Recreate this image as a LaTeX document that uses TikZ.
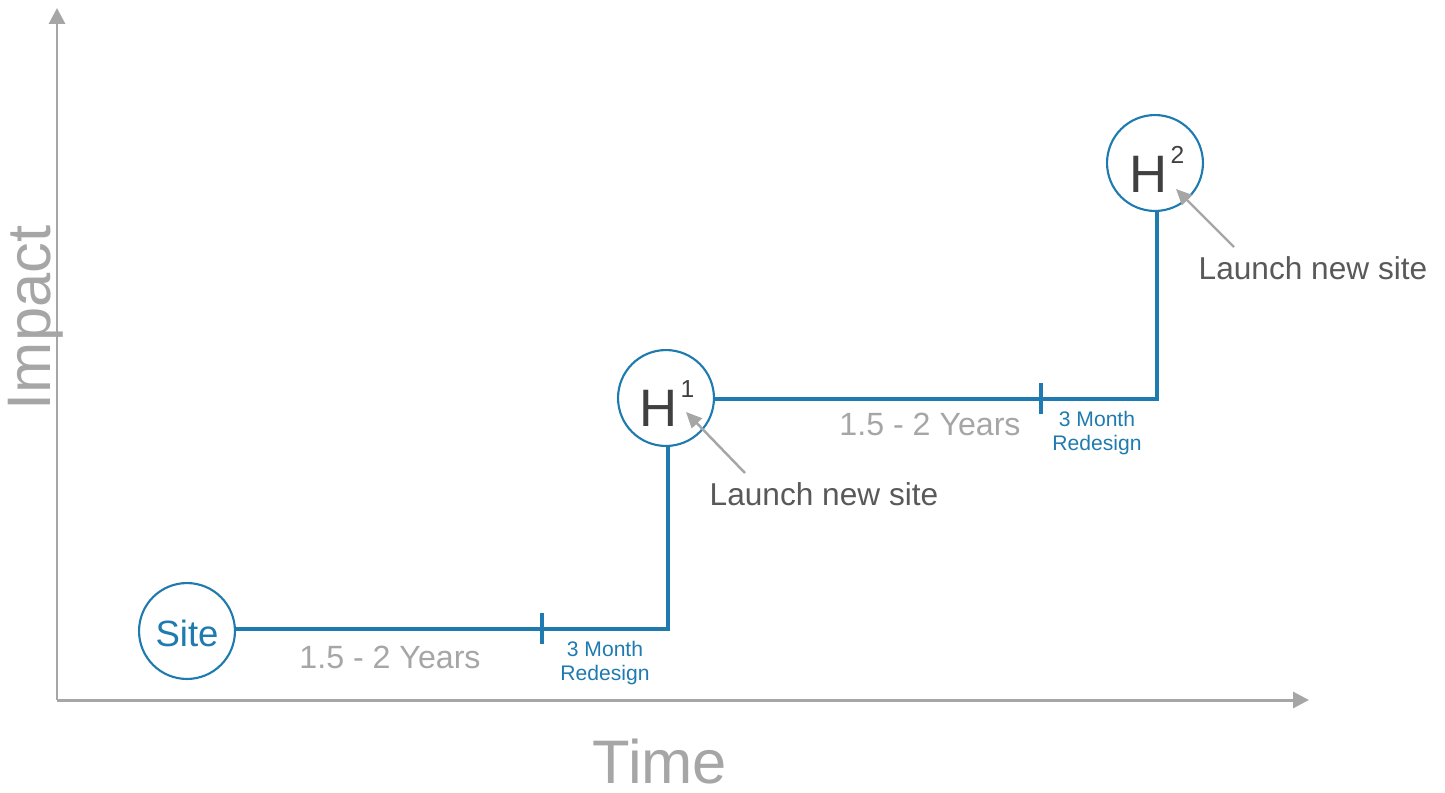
\documentclass[tikz,border=0pt]{standalone}
\usepackage{fontspec}
\setmainfont{Liberation Sans}
\usetikzlibrary{arrows.meta}
\definecolor{axisgray}{HTML}{A6A6A6}
\definecolor{siteblue}{HTML}{1F7BAF}
\definecolor{darkgray}{HTML}{404040}
\definecolor{labelgray}{HTML}{595959}
\begin{document}
\begin{tikzpicture}[x=0.02cm,y=-0.02cm,
  axis/.style={draw=axisgray,line width=1.7pt,-{Triangle[length=9pt,width=9pt]}},
  milestone/.style={circle,draw=siteblue,line width=1.2pt,inner sep=0pt,fill=white},
  pathline/.style={draw=siteblue,line width=2.3pt},
  tickmark/.style={draw=siteblue,line width=2.3pt},
  durlabel/.style={text=axisgray,font=\fontsize{18.3}{21}\selectfont},
  redlabel/.style={text=siteblue,font=\fontsize{12}{14}\selectfont,align=center},
  launchlabel/.style={text=labelgray,font=\fontsize{18}{21}\selectfont},
  pointer/.style={draw=axisgray,line width=1.4pt,-{Triangle[length=9pt,width=8pt]}}
]
\useasboundingbox (0,0) rectangle (1445,792);
% axes
\coordinate (O) at (57,700);
\coordinate (ytop) at (57,8);
\coordinate (xend) at (1309,700);
\draw[axis] (O) -- (ytop);
\draw[axis] (O) -- (xend);
\node[text=axisgray,font=\fontsize{35}{40}\selectfont,rotate=90] (impact) at (36,318) {Impact};
\node[text=axisgray,font=\fontsize{35}{40}\selectfont,inner sep=0pt] (time) at (660,762) {Time};
% milestones
\node[milestone,minimum size=54.6pt] (site) at (187,631) {};
\node[text=siteblue,font=\fontsize{20.8}{24}\selectfont] (sitetext) at (187,633) {Site};
\node[milestone,minimum size=54.6pt] (h1) at (666,398) {};
\node[text=darkgray,font=\fontsize{30}{34}\selectfont] (h1text) at (667,404) {H\kern1.5pt\raisebox{0.55em}{\fontsize{14}{16}\selectfont 1}};
\node[milestone,minimum size=54.6pt] (h2) at (1155,163) {};
\node[text=darkgray,font=\fontsize{30}{34}\selectfont] (h2text) at (1157,169) {H\kern1.5pt\raisebox{0.55em}{\fontsize{14}{16}\selectfont 2}};
% path coordinates
\coordinate (c1) at (668,629);
\coordinate (c2) at (1157,399);
\draw[pathline] (site.east |- 0,629) -- (c1) -- (c1 |- h1.south);
\draw[pathline] (h1.east |- 0,399) -- (c2) -- (c2 |- h2.south);
% ticks
\coordinate (t1a) at (542,613); \coordinate (t1b) at (542,644);
\coordinate (t2a) at (1041,383); \coordinate (t2b) at (1041,414);
\draw[tickmark] (t1a) -- (t1b);
\draw[tickmark] (t2a) -- (t2b);
% labels
\node[durlabel] (d1) at (390,657) {1.5 - 2 Years};
\node[durlabel] (d2) at (930,424) {1.5 - 2 Years};
\node[redlabel] (r1) at (605,663) {3 Month\\Redesign};
\node[redlabel] (r2) at (1097,433) {3 Month\\Redesign};
\node[launchlabel] (l1) at (824,494) {Launch new site};
\node[launchlabel] (l2) at (1313,268) {Launch new site};
% pointers
\coordinate (p1s) at (745,473); \coordinate (p1e) at (686,412);
\coordinate (p2s) at (1234,247); \coordinate (p2e) at (1176,189);
\draw[pointer] (p1s) -- (p1e);
\draw[pointer] (p2s) -- (p2e);
\end{tikzpicture}
\end{document}
